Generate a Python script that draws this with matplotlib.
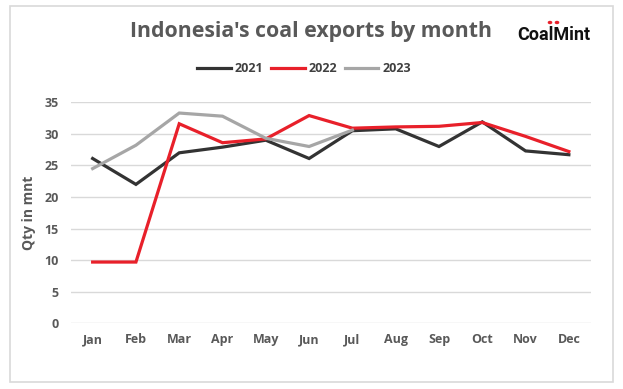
import matplotlib
matplotlib.use("Agg")
import matplotlib.pyplot as plt
from matplotlib.patches import Rectangle, Circle

months = ["Jan", "Feb", "Mar", "Apr", "May", "Jun", "Jul", "Aug", "Sep", "Oct", "Nov", "Dec"]
y2021 = [26.1, 22.0, 27.0, 27.9, 29.0, 26.1, 30.5, 30.8, 28.0, 31.9, 27.3, 26.7]
y2022 = [9.7, 9.7, 31.6, 28.6, 29.2, 32.9, 30.9, 31.1, 31.2, 31.8, 29.6, 27.2]
y2023 = [24.5, 28.2, 33.3, 32.8, 29.3, 28.0, 30.6]
series_labels = ["2021", "2022", "2023"]
yticks = [0, 5, 10, 15, 20, 25, 30, 35]

plt.rcParams['font.family'] = ['Open Sans', 'DejaVu Sans']
W, H = 623, 389
fig = plt.figure(figsize=(W / 100, H / 100), dpi=100)
fig.patch.set_facecolor("white")

# outer frame
fig.patches.append(Rectangle((9.5 / W, 1 - 382 / H), (613 - 9.5) / W, (382 - 5.5) / H,
                             transform=fig.transFigure, fill=False,
                             edgecolor="#d9d9d9", linewidth=1.2))

ax = fig.add_axes([71 / W, 1 - 323.3 / H, (590.5 - 71) / W, (323.3 - 102.3) / H])
x = list(range(len(months)))
ax.plot(x, y2021, color="#333333", lw=2.3, label=series_labels[0], solid_joinstyle="miter")
ax.plot(x, y2022, color="#e8202a", lw=2.3, label=series_labels[1], solid_joinstyle="miter")
ax.plot(x[:len(y2023)], y2023, color="#a6a6a6", lw=2.3, label=series_labels[2], solid_joinstyle="miter")

ax.set_xlim(-0.5, 11.5)
ax.set_ylim(0, 35)
ax.set_yticks(yticks)
ax.set_xticks(x)
ax.set_xticklabels(months)
ax.grid(axis="y", color="#d9d9d9", lw=1)
ax.set_axisbelow(True)
for s in ax.spines.values():
    s.set_visible(False)
ax.tick_params(length=0, labelsize=9, labelcolor="#595959")
ax.tick_params(axis="y", pad=9)
ax.tick_params(axis="x", pad=7)
for lab in ax.get_xticklabels() + ax.get_yticklabels():
    lab.set_fontweight("bold")
ax.set_ylabel("Qty in mnt", fontsize=10, fontweight="bold", color="#595959")
ax.yaxis.set_label_coords((36 - 71) / (590.5 - 71), 0.5)

fig.text(311 / W, 1 - 31 / H, "Indonesia's coal exports by month", ha="center", va="center",
         fontsize=15.3, fontweight="bold", color="#595959")

leg = fig.legend(loc="center", bbox_to_anchor=(304 / W, 1 - 69 / H), ncol=3, frameon=False,
                 fontsize=9, handlelength=2.7, columnspacing=0.6, handletextpad=0.3)
for t in leg.get_texts():
    t.set_fontweight("bold")
    t.set_color("#404040")

# CoalMint logo
fig.text(554 / W, 1 - 35 / H, "CoalMint", ha="center", va="center", fontsize=13,
         fontweight="bold", color="#111111", family=["Roboto", "DejaVu Sans"], fontstretch="condensed")
for dx in (550, 557):
    fig.patches.append(Circle((dx / W, 1 - 22.5 / H), 1.6 / W, transform=fig.transFigure,
                              color="#e8202a"))

fig.savefig("out.png", dpi=100, facecolor="white")
